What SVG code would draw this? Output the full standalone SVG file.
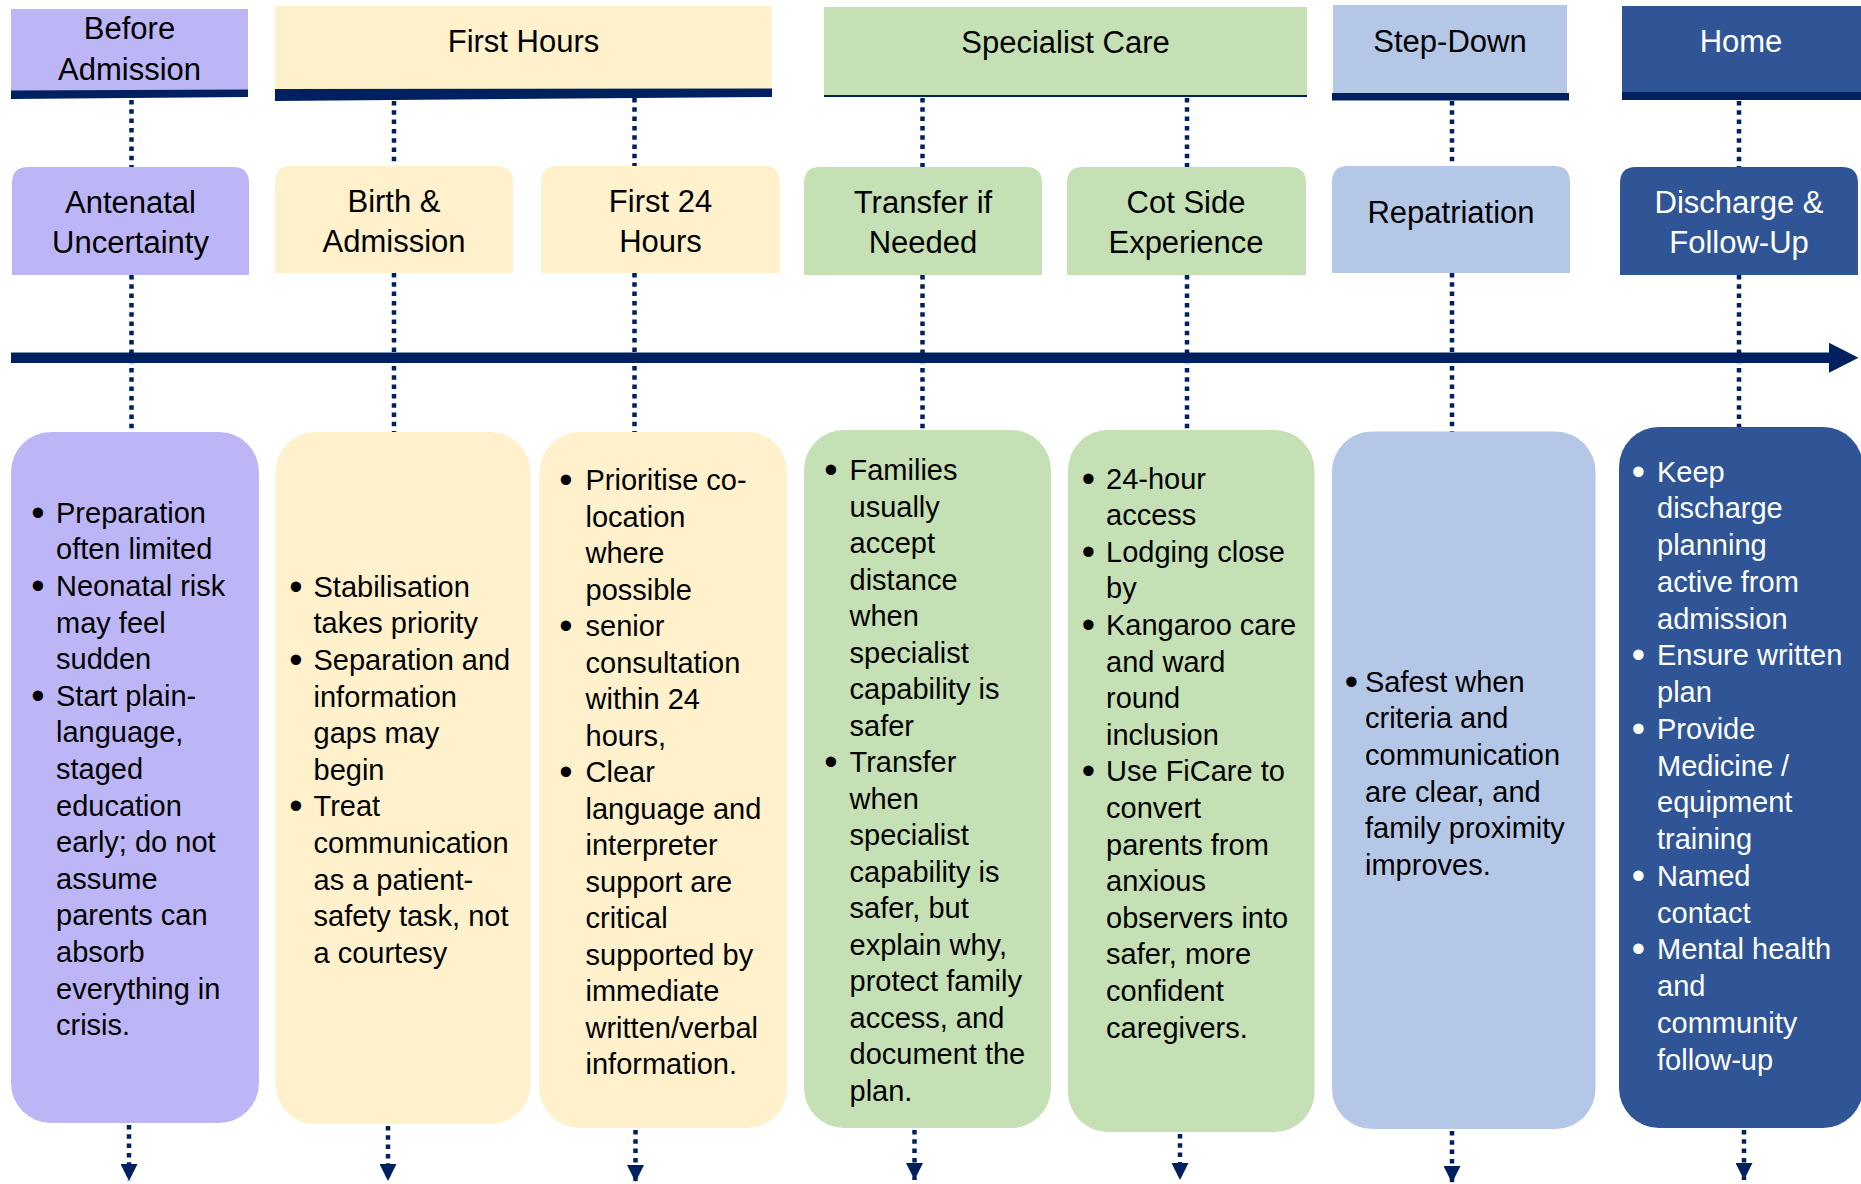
<svg xmlns="http://www.w3.org/2000/svg" width="1861" height="1184" viewBox="0 0 1861 1184">
<style>
text{font-family:"Liberation Sans",Arial,sans-serif;fill:#000}
.hd{font-size:31px;text-anchor:middle}
.tt{font-size:31px;text-anchor:middle}
.bd{font-size:29px}
.bl{font-size:38px;text-anchor:middle}
.wt{fill:#fff}
.pu{fill:#BDB6F6}
.ye{fill:#FFF1CC}
.gr{fill:#C5E0B4}
.lb{fill:#B4C7E7}
.db{fill:#2F5597}
.nv{fill:#002060}
.dot{stroke:#002060;stroke-width:4.5;stroke-dasharray:4.5 4.8;fill:none}
</style>
<defs>
<marker id="ah" markerUnits="userSpaceOnUse" markerWidth="18" markerHeight="17" viewBox="0 0 18 17" refX="17" refY="8.5" orient="auto">
<path d="M0,0 L17,8.5 L0,17 z" fill="#002060"/>
</marker>
</defs>
<rect width="1861" height="1184" fill="#fff"/>

<!-- Phase headers -->
<g id="hdr-before">
<rect class="pu" x="11" y="9" width="237" height="82"/>
<polygon class="nv" points="11,90.5 248,89.5 248,97 11,99"/>
<text class="hd" x="129.5" y="39">Before</text>
<text class="hd" x="129.5" y="80">Admission</text>
</g>
<g id="hdr-first">
<rect class="ye" x="275" y="6" width="497" height="83"/>
<polygon class="nv" points="275,89 772,88.5 772,97 275,101"/>
<text class="hd" x="523.5" y="52">First Hours</text>
</g>
<g id="hdr-specialist">
<rect class="gr" x="824" y="7" width="483" height="88"/>
<rect class="nv" x="824" y="95" width="483" height="2"/>
<text class="hd" x="1065.5" y="53">Specialist Care</text>
</g>
<g id="hdr-stepdown">
<rect class="lb" x="1333" y="5" width="234" height="89"/>
<rect class="nv" x="1332" y="93" width="237" height="7.5"/>
<text class="hd" x="1450" y="52">Step-Down</text>
</g>
<g id="hdr-home">
<rect class="db" x="1622" y="6" width="240" height="87"/>
<rect class="nv" x="1622" y="92" width="240" height="8"/>
<text class="hd wt" x="1741" y="52">Home</text>
</g>

<!-- Connectors -->
<g id="connectors">
<line class="dot" x1="131.5" y1="100" x2="131.5" y2="167"/>
<line class="dot" x1="131.5" y1="275" x2="131.5" y2="432"/>
<line class="dot" x1="394" y1="101" x2="394" y2="166"/>
<line class="dot" x1="394" y1="273" x2="394" y2="432"/>
<line class="dot" x1="634.5" y1="98" x2="634.5" y2="166"/>
<line class="dot" x1="634.5" y1="273" x2="634.5" y2="432"/>
<line class="dot" x1="922.5" y1="98" x2="922.5" y2="167"/>
<line class="dot" x1="922.5" y1="275" x2="922.5" y2="430"/>
<line class="dot" x1="1187" y1="98" x2="1187" y2="167"/>
<line class="dot" x1="1187" y1="275" x2="1187" y2="430"/>
<line class="dot" x1="1452" y1="101" x2="1452" y2="166"/>
<line class="dot" x1="1452" y1="273" x2="1452" y2="432"/>
<line class="dot" x1="1739" y1="101" x2="1739" y2="167"/>
<line class="dot" x1="1739" y1="275" x2="1739" y2="427"/>
<rect class="nv" x="11" y="352.5" width="1820" height="10.5"/>
<polygon class="nv" points="1829,342.7 1858.5,357.8 1829,372.7"/>
<line class="dot" x1="129" y1="1125" x2="129" y2="1181" marker-end="url(#ah)"/>
<line class="dot" x1="388" y1="1126" x2="388" y2="1181" marker-end="url(#ah)"/>
<line class="dot" x1="635.5" y1="1130" x2="635.5" y2="1182" marker-end="url(#ah)"/>
<line class="dot" x1="914.5" y1="1130" x2="914.5" y2="1180" marker-end="url(#ah)"/>
<line class="dot" x1="1180" y1="1134" x2="1180" y2="1180" marker-end="url(#ah)"/>
<line class="dot" x1="1452" y1="1131" x2="1452" y2="1183" marker-end="url(#ah)"/>
<line class="dot" x1="1744" y1="1130" x2="1744" y2="1180" marker-end="url(#ah)"/>
</g>

<!-- Stage nodes -->
<g id="node-antenatal">
<path class="pu" d="M12,275 V183 Q12,167 28,167 H233 Q249,167 249,183 V275 z"/>
<text class="tt" x="130.5" y="212.5">Antenatal</text>
<text class="tt" x="130.5" y="252.5">Uncertainty</text>
</g>
<g id="node-birth">
<path class="ye" d="M275,273 V182 Q275,166 291,166 H497 Q513,166 513,182 V273 z"/>
<text class="tt" x="394" y="211.5">Birth &amp;</text>
<text class="tt" x="394" y="251.5">Admission</text>
</g>
<g id="node-first24">
<path class="ye" d="M541,273 V182 Q541,166 557,166 H764 Q780,166 780,182 V273 z"/>
<text class="tt" x="660.5" y="211.5">First 24</text>
<text class="tt" x="660.5" y="251.5">Hours</text>
</g>
<g id="node-transfer">
<path class="gr" d="M804,275 V183 Q804,167 820,167 H1026 Q1042,167 1042,183 V275 z"/>
<text class="tt" x="923" y="212.5">Transfer if</text>
<text class="tt" x="923" y="252.5">Needed</text>
</g>
<g id="node-cotside">
<path class="gr" d="M1067,275 V183 Q1067,167 1083,167 H1290 Q1306,167 1306,183 V275 z"/>
<text class="tt" x="1186" y="212.5">Cot Side</text>
<text class="tt" x="1186" y="252.5">Experience</text>
</g>
<g id="node-repatriation">
<path class="lb" d="M1332,273 V182 Q1332,166 1348,166 H1554 Q1570,166 1570,182 V273 z"/>
<text class="tt" x="1451" y="223">Repatriation</text>
</g>
<g id="node-discharge">
<path class="db" d="M1620,275 V183 Q1620,167 1636,167 H1842 Q1858,167 1858,183 V275 z"/>
<text class="tt wt" x="1739" y="212.5">Discharge &amp;</text>
<text class="tt wt" x="1739" y="252.5">Follow-Up</text>
</g>

<!-- Detail boxes -->
<g id="detail-antenatal">
<rect class="pu" x="11" y="432" width="248" height="691" rx="40"/>
<text class="bl" x="38" y="525.7">•</text>
<text class="bl" x="38" y="599.3">•</text>
<text class="bl" x="38" y="709.1">•</text>
<text class="bd" x="56" y="522.7"><tspan x="56">Preparation</tspan><tspan x="56" dy="36.6">often limited</tspan><tspan x="56" dy="36.6">Neonatal risk</tspan><tspan x="56" dy="36.6">may feel</tspan><tspan x="56" dy="36.6">sudden</tspan><tspan x="56" dy="36.6">Start plain-</tspan><tspan x="56" dy="36.6">language,</tspan><tspan x="56" dy="36.6">staged</tspan><tspan x="56" dy="36.6">education</tspan><tspan x="56" dy="36.6">early; do not</tspan><tspan x="56" dy="36.6">assume</tspan><tspan x="56" dy="36.6">parents can</tspan><tspan x="56" dy="36.6">absorb</tspan><tspan x="56" dy="36.6">everything in</tspan><tspan x="56" dy="36.6">crisis.</tspan></text>
</g>
<g id="detail-birth">
<rect class="ye" x="275.5" y="432" width="255" height="692" rx="40"/>
<text class="bl" x="296" y="599.7">•</text>
<text class="bl" x="296" y="672.9">•</text>
<text class="bl" x="296" y="819.3">•</text>
<text class="bd" x="313.5" y="596.7"><tspan x="313.5">Stabilisation</tspan><tspan x="313.5" dy="36.6">takes priority</tspan><tspan x="313.5" dy="36.6">Separation and</tspan><tspan x="313.5" dy="36.6">information</tspan><tspan x="313.5" dy="36.6">gaps may</tspan><tspan x="313.5" dy="36.6">begin</tspan><tspan x="313.5" dy="36.6">Treat</tspan><tspan x="313.5" dy="36.6">communication</tspan><tspan x="313.5" dy="36.6">as a patient-</tspan><tspan x="313.5" dy="36.6">safety task, not</tspan><tspan x="313.5" dy="36.6">a courtesy</tspan></text>
</g>
<g id="detail-first24">
<rect class="ye" x="539.5" y="432" width="247.5" height="696" rx="40"/>
<text class="bl" x="566" y="493">•</text>
<text class="bl" x="566" y="639">•</text>
<text class="bl" x="566" y="785">•</text>
<text class="bd" x="585.5" y="490"><tspan x="585.5">Prioritise co-</tspan><tspan x="585.5" dy="36.5">location</tspan><tspan x="585.5" dy="36.5">where</tspan><tspan x="585.5" dy="36.5">possible</tspan><tspan x="585.5" dy="36.5">senior</tspan><tspan x="585.5" dy="36.5">consultation</tspan><tspan x="585.5" dy="36.5">within 24</tspan><tspan x="585.5" dy="36.5">hours,</tspan><tspan x="585.5" dy="36.5">Clear</tspan><tspan x="585.5" dy="36.5">language and</tspan><tspan x="585.5" dy="36.5">interpreter</tspan><tspan x="585.5" dy="36.5">support are</tspan><tspan x="585.5" dy="36.5">critical</tspan><tspan x="585.5" dy="36.5">supported by</tspan><tspan x="585.5" dy="36.5">immediate</tspan><tspan x="585.5" dy="36.5">written/verbal</tspan><tspan x="585.5" dy="36.5">information.</tspan></text>
</g>
<g id="detail-transfer">
<rect class="gr" x="804" y="430" width="247" height="698" rx="40"/>
<text class="bl" x="831" y="483">•</text>
<text class="bl" x="831" y="775">•</text>
<text class="bd" x="849.5" y="480"><tspan x="849.5">Families</tspan><tspan x="849.5" dy="36.5">usually</tspan><tspan x="849.5" dy="36.5">accept</tspan><tspan x="849.5" dy="36.5">distance</tspan><tspan x="849.5" dy="36.5">when</tspan><tspan x="849.5" dy="36.5">specialist</tspan><tspan x="849.5" dy="36.5">capability is</tspan><tspan x="849.5" dy="36.5">safer</tspan><tspan x="849.5" dy="36.5">Transfer</tspan><tspan x="849.5" dy="36.5">when</tspan><tspan x="849.5" dy="36.5">specialist</tspan><tspan x="849.5" dy="36.5">capability is</tspan><tspan x="849.5" dy="36.5">safer, but</tspan><tspan x="849.5" dy="36.5">explain why,</tspan><tspan x="849.5" dy="36.5">protect family</tspan><tspan x="849.5" dy="36.5">access, and</tspan><tspan x="849.5" dy="36.5">document the</tspan><tspan x="849.5" dy="36.5">plan.</tspan></text>
</g>
<g id="detail-cotside">
<rect class="gr" x="1068" y="430" width="246.5" height="702" rx="40"/>
<text class="bl" x="1088.5" y="491.5">•</text>
<text class="bl" x="1088.5" y="564.7">•</text>
<text class="bl" x="1088.5" y="637.9">•</text>
<text class="bl" x="1088.5" y="784.3">•</text>
<text class="bd" x="1106" y="488.5"><tspan x="1106">24-hour</tspan><tspan x="1106" dy="36.6">access</tspan><tspan x="1106" dy="36.6">Lodging close</tspan><tspan x="1106" dy="36.6">by</tspan><tspan x="1106" dy="36.6">Kangaroo care</tspan><tspan x="1106" dy="36.6">and ward</tspan><tspan x="1106" dy="36.6">round</tspan><tspan x="1106" dy="36.6">inclusion</tspan><tspan x="1106" dy="36.6">Use FiCare to</tspan><tspan x="1106" dy="36.6">convert</tspan><tspan x="1106" dy="36.6">parents from</tspan><tspan x="1106" dy="36.6">anxious</tspan><tspan x="1106" dy="36.6">observers into</tspan><tspan x="1106" dy="36.6">safer, more</tspan><tspan x="1106" dy="36.6">confident</tspan><tspan x="1106" dy="36.6">caregivers.</tspan></text>
</g>
<g id="detail-repatriation">
<rect class="lb" x="1332" y="431.5" width="263.5" height="697.5" rx="40"/>
<text class="bl" x="1351.5" y="694.7">•</text>
<text class="bd" x="1365" y="691.7"><tspan x="1365">Safest when</tspan><tspan x="1365" dy="36.6">criteria and</tspan><tspan x="1365" dy="36.6">communication</tspan><tspan x="1365" dy="36.6">are clear, and</tspan><tspan x="1365" dy="36.6">family proximity</tspan><tspan x="1365" dy="36.6">improves.</tspan></text>
</g>
<g id="detail-discharge">
<rect class="db" x="1619" y="427" width="244" height="701" rx="40"/>
<text class="bl wt" x="1638.5" y="484.7">•</text>
<text class="bl wt" x="1638.5" y="668.4">•</text>
<text class="bl wt" x="1638.5" y="741.9">•</text>
<text class="bl wt" x="1638.5" y="888.9">•</text>
<text class="bl wt" x="1638.5" y="962.4">•</text>
<text class="bd wt" x="1657" y="481.7"><tspan x="1657">Keep</tspan><tspan x="1657" dy="36.75">discharge</tspan><tspan x="1657" dy="36.75">planning</tspan><tspan x="1657" dy="36.75">active from</tspan><tspan x="1657" dy="36.75">admission</tspan><tspan x="1657" dy="36.75">Ensure written</tspan><tspan x="1657" dy="36.75">plan</tspan><tspan x="1657" dy="36.75">Provide</tspan><tspan x="1657" dy="36.75">Medicine /</tspan><tspan x="1657" dy="36.75">equipment</tspan><tspan x="1657" dy="36.75">training</tspan><tspan x="1657" dy="36.75">Named</tspan><tspan x="1657" dy="36.75">contact</tspan><tspan x="1657" dy="36.75">Mental health</tspan><tspan x="1657" dy="36.75">and</tspan><tspan x="1657" dy="36.75">community</tspan><tspan x="1657" dy="36.75">follow-up</tspan></text>
</g>
</svg>
